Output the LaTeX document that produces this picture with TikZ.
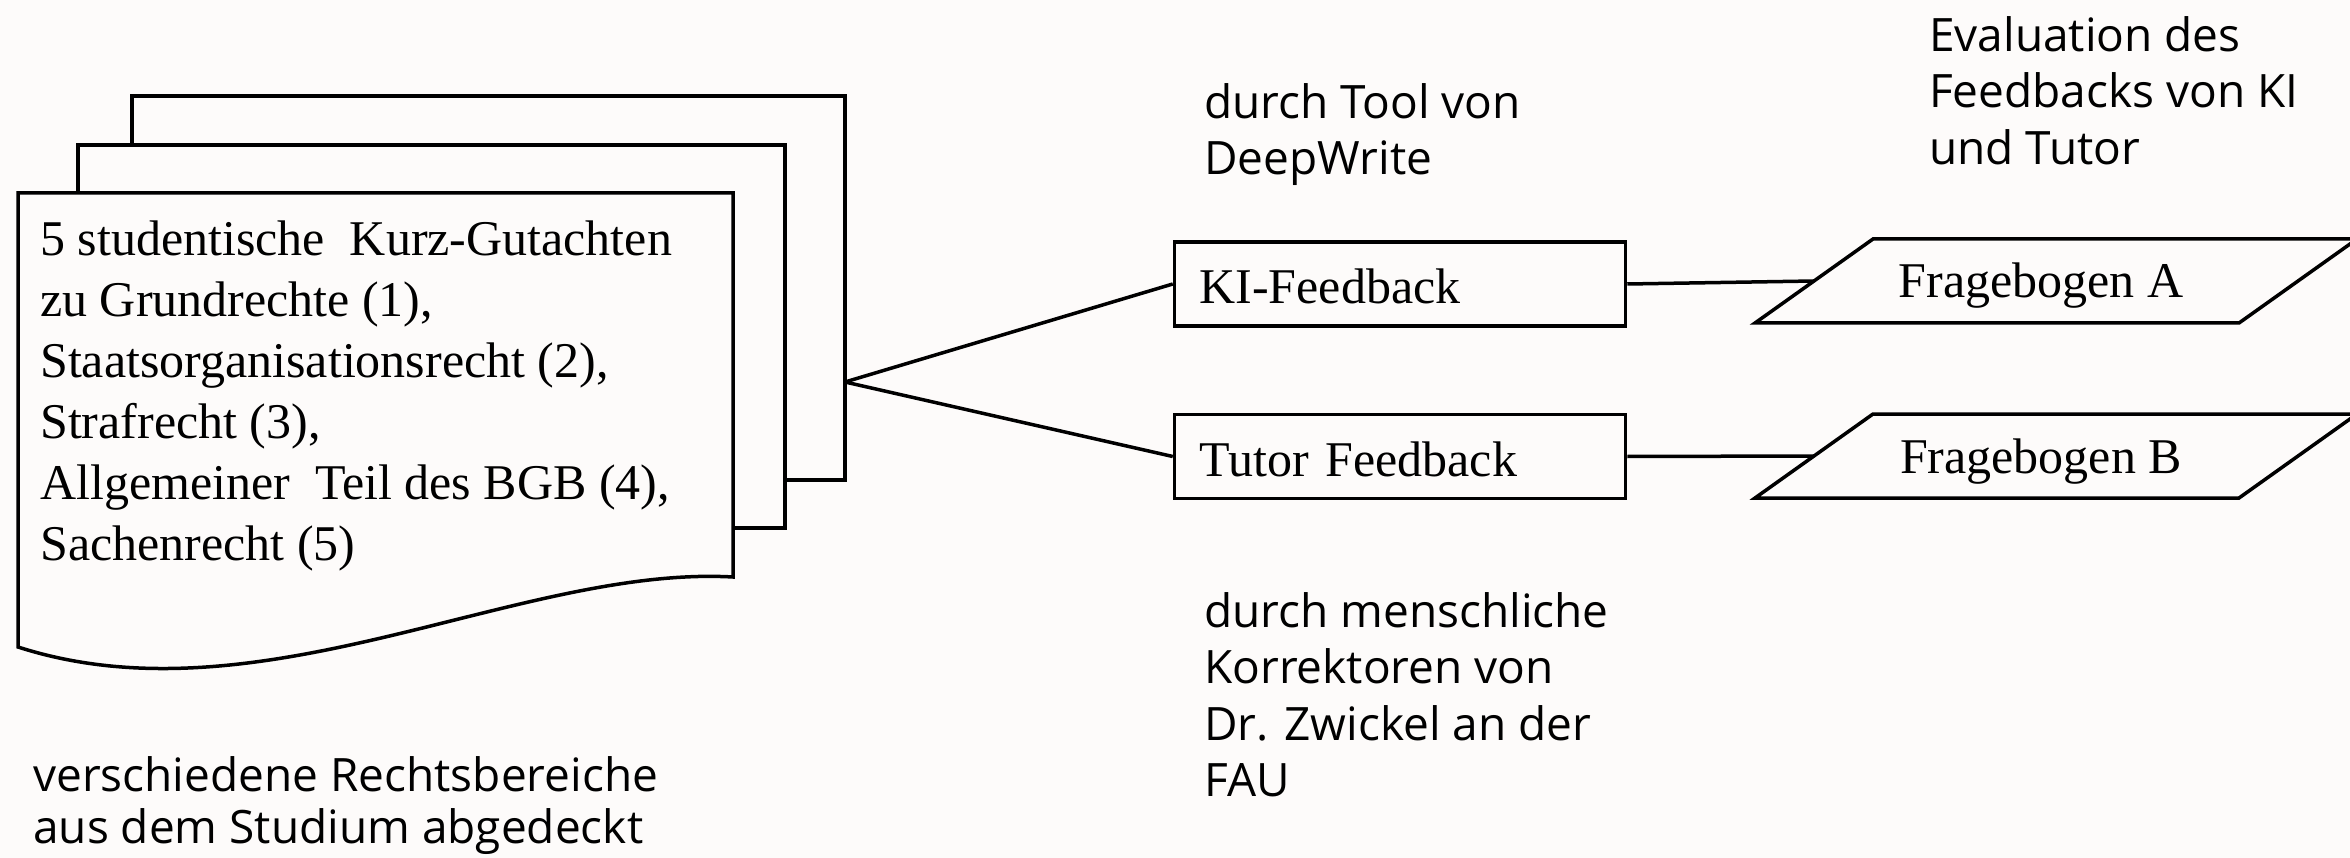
\documentclass[tikz,border=0pt]{standalone}
\usepackage{fontspec}
\setmainfont{Liberation Serif}
\newfontfamily\labelfont{Open Sans}
\definecolor{bgc}{HTML}{FDFBFA}
\begin{document}
\begin{tikzpicture}[x=1pt,y=-1pt,
  page/.style={draw=black, line width=3.5pt, fill=bgc, line join=miter},
  conn/.style={draw=black, line width=3.5pt},
  fbbox/.style={draw=black, line width=3.5pt, fill=bgc, minimum width=451pt, minimum height=84pt,
    inner sep=0pt, text width=401pt, text height=40pt, text depth=0pt, align=left,
    font=\fontsize{50}{61}\selectfont},
  doctext/.style={inner sep=0pt, align=left, anchor=north west, font=\fontsize{50}{61}\selectfont},
  qtext/.style={inner sep=0pt, anchor=base, font=\fontsize{50}{61}\selectfont},
  note/.style={inner sep=0pt, align=left, anchor=north west, font=\labelfont\fontsize{46}{56.5}\selectfont}]
\useasboundingbox (0,0) rectangle (2350,858);
\fill[bgc] (0,0) rectangle (2350,858);
% stacked pages
\draw[page] (132,96) rectangle (845,480);
\draw[page] (78,145) rectangle (785,528);
\draw[page] (18,193) -- (733,193) -- (733,577) .. controls (520,565) and (260,725) .. (18,647) -- cycle;
\node[doctext] (doc) at (40,221) {5 studentische\ \ Kurz-Gutachten\\zu Grundrechte (1),\\Staatsorganisationsrecht (2),\\Strafrecht (3),\\Allgemeiner\ \ Teil des BGB (4),\\Sachenrecht (5)};
\coordinate (stackR) at (845,382);
% feedback boxes
\node[fbbox] (ki) at (1400,284) {KI-Feedback};
\node[fbbox] (tut) at (1400,456.5) {Tutor Feedback};
\draw[conn] (stackR) -- (ki.west);
\draw[conn] (stackR) -- (tut.west);
% questionnaires
\draw[page] (1755,323) -- (1873,239) -- (2357,239) -- (2239,323) -- cycle;
\coordinate (faL) at (1814,281);
\node[qtext] (fa) at (2041,298) {Fragebogen A};
\draw[page] (1755,498) -- (1873,414) -- (2357,414) -- (2239,498) -- cycle;
\coordinate (fbL) at (1814,456);
\node[qtext] (fb) at (2041,473) {Fragebogen B};
\draw[conn] (ki.east) -- (faL);
\draw[conn] (tut.east) -- (fbL);
% labels
\node[note] (l1) at (1204,83) {durch Tool von\\DeepWrite};
\node[note] (l2) at (1929,16) {Evaluation des\\Feedbacks von KI\\und Tutor};
\node[note] (l3) at (1204,592) {durch menschliche\\Korrektoren von\\Dr. Zwickel an der\\FAU};
\node[note, font=\labelfont\fontsize{46}{52}\selectfont] (l4) at (33,756) {verschiedene Rechtsbereiche\\aus dem Studium abgedeckt};
\end{tikzpicture}
\end{document}
